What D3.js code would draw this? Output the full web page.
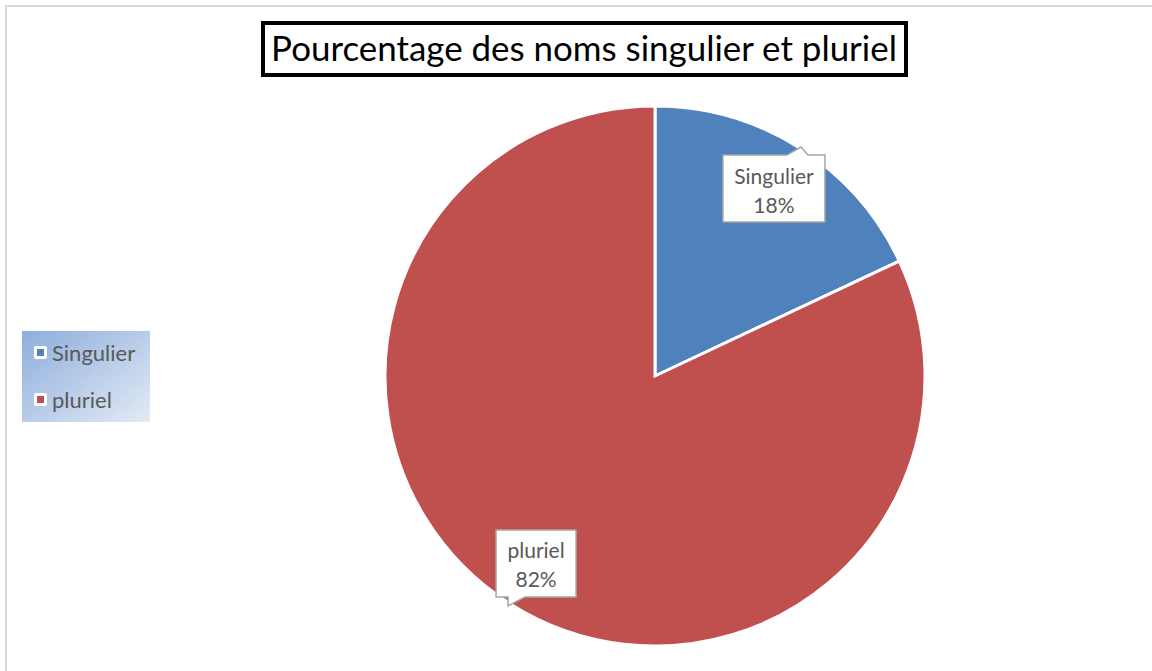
<!DOCTYPE html>
<html>
<head>
<meta charset="utf-8">
<script src="https://cdn.jsdelivr.net/npm/d3@7"></script>
<style>
  html, body { margin: 0; padding: 0; background: #fff; }
  svg { display: block; font-family: Lato, "Open Sans", sans-serif; }
</style>
</head>
<body>
<div id="chart"></div>
<script>
var categories = ['Singulier', 'pluriel'];
var values = [18, 82];
var percentLabels = ['18%', '82%'];
var colors = ['#4F81BD', '#C0504D'];
var title = 'Pourcentage des noms singulier et pluriel';

var width = 1152, height = 671;
var cx = 655, cy = 376, radius = 270;

var svg = d3.select('#chart').append('svg')
  .attr('width', width).attr('height', height);

// outer chart area frame (only top and left visible)
svg.append('path')
  .attr('d', 'M6,' + height + 'V6H' + width)
  .attr('fill', 'none').attr('stroke', '#d9d9d9').attr('stroke-width', 2);

// title box
var titleG = svg.append('g');
titleG.append('rect')
  .attr('x', 263).attr('y', 23).attr('width', 643).attr('height', 52)
  .attr('fill', '#fff').attr('stroke', '#000').attr('stroke-width', 4);
var titleText = titleG.append('text')
  .attr('x', 584).attr('y', 61)
  .attr('text-anchor', 'middle')
  .attr('fill', '#000')
  .style('font-size', '31px')
  .text(title);
var tw = titleText.node().getComputedTextLength();
titleText.style('font-size', (31 * 626 / tw) + 'px');

// pie
var pie = d3.pie().sort(null).value(function (d) { return d; });
var arcs = pie(values);
var arc = d3.arc().innerRadius(0).outerRadius(radius);
var labelArc = d3.arc().innerRadius(222).outerRadius(222);

var pieG = svg.append('g').attr('transform', 'translate(' + cx + ',' + cy + ')');
pieG.selectAll('path.slice').data(arcs).enter().append('path')
  .attr('class', 'slice')
  .attr('d', arc)
  .attr('fill', function (d, i) { return colors[i]; })
  .attr('stroke', '#fff').attr('stroke-width', 3)
  .attr('stroke-linejoin', 'miter');

// callout labels
var boxW = [102, 80], boxH = 67;
// pointer: [x1 on edge, tip x, tip y, x2 on edge] relative to box, side
var pointers = [
  { side: 'top', a: 64, tipX: 78, tipY: -8, b: 85 },
  { side: 'bottom', a: 12, tipX: 12, tipY: 9, b: 29 }
];
var labels = pieG.selectAll('g.lbl').data(arcs).enter().append('g')
  .attr('class', 'lbl')
  .attr('transform', function (d) {
    var c = labelArc.centroid(d);
    return 'translate(' + c[0] + ',' + c[1] + ')';
  });
labels.append('path')
  .attr('d', function (d, i) {
    var w = boxW[i], h = boxH, x0 = -w / 2, y0 = -h / 2, p = pointers[i];
    if (p.side === 'top') {
      return 'M' + x0 + ',' + y0 + 'H' + (x0 + p.a) + 'L' + (x0 + p.tipX) + ',' + (y0 + p.tipY) +
        'L' + (x0 + p.b) + ',' + y0 + 'H' + (x0 + w) + 'V' + (y0 + h) + 'H' + x0 + 'Z';
    }
    return 'M' + x0 + ',' + y0 + 'H' + (x0 + w) + 'V' + (y0 + h) + 'H' + (x0 + p.b) +
      'L' + (x0 + p.tipX) + ',' + (y0 + h + p.tipY) + 'L' + (x0 + p.a) + ',' + (y0 + h) + 'H' + x0 + 'Z';
  })
  .attr('fill', '#fff').attr('stroke', '#a6a6a6').attr('stroke-width', 1.5);
labels.append('text')
  .attr('text-anchor', 'middle').attr('y', -5)
  .attr('fill', '#595959').style('font-size', '21px')
  .text(function (d, i) { return categories[i]; });
labels.append('text')
  .attr('text-anchor', 'middle').attr('y', 24)
  .attr('fill', '#595959').style('font-size', '21px')
  .text(function (d, i) { return percentLabels[i]; });

// legend
var defs = svg.append('defs');
var grad = defs.append('linearGradient').attr('id', 'legGrad')
  .attr('x1', '0%').attr('y1', '0%').attr('x2', '100%').attr('y2', '100%');
grad.append('stop').attr('offset', '0%').attr('stop-color', '#8DAEDC');
grad.append('stop').attr('offset', '100%').attr('stop-color', '#E3EAF5');

var legend = svg.append('g').attr('transform', 'translate(22,331)');
legend.append('rect').attr('width', 128).attr('height', 91).attr('fill', 'url(#legGrad)');
var items = legend.selectAll('g.item').data(categories).enter().append('g')
  .attr('class', 'item')
  .attr('transform', function (d, i) { return 'translate(12,' + (15 + i * 47) + ')'; });
items.append('rect')
  .attr('width', 13).attr('height', 13).attr('rx', 2)
  .attr('fill', '#fff');
items.append('rect')
  .attr('x', 3).attr('y', 3).attr('width', 7).attr('height', 7)
  .attr('fill', function (d, i) { return colors[i]; });
items.append('text')
  .attr('x', 18).attr('y', 15)
  .attr('fill', '#595959').style('font-size', '22px')
  .text(function (d) { return d; });
</script>
</body>
</html>
